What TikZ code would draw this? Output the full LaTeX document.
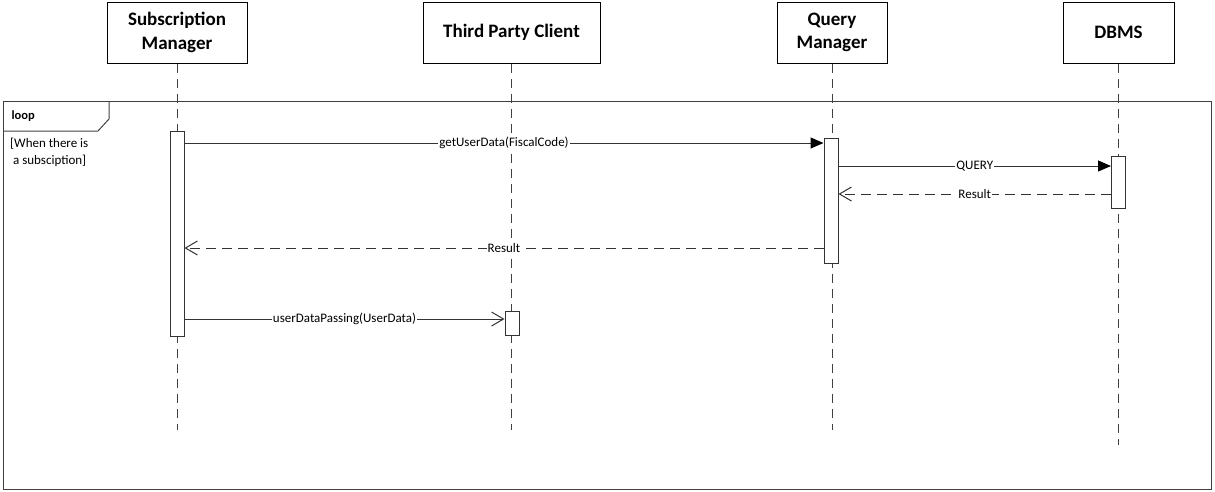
\documentclass[tikz,border=0pt]{standalone}
\usepackage{fontspec}
\setmainfont{Carlito}
\usetikzlibrary{arrows.meta}

\begin{document}
\begin{tikzpicture}[x=1pt,y=-1pt,
    head/.style={draw,line width=1pt,minimum width=#1,minimum height=61,align=center,
                 font=\fontsize{19}{23.5}\selectfont\bfseries},
    lifeline/.style={draw=black!75,line width=1pt,dash pattern=on 9pt off 6pt},
    actbox/.style={draw=black!80,fill=white,line width=1pt,minimum width=14,inner sep=0pt},
    msg/.style={draw=black!80,line width=1pt,-{Triangle[length=13pt,width=11pt,color=black]}},
    call/.style={draw=black!80,line width=1pt,-{Straight Barb[length=12pt,width=14pt]}},
    reply/.style={call,dash pattern=on 10pt off 6pt},
    lbl/.style={fill=white,inner sep=1pt,font=\fontsize{13}{15}\selectfont}]
  \useasboundingbox (0,0) rectangle (1215,491);
  % heads
  \node[head=140] (sm) at (177,32.5) {Subscription\\Manager};
  \node[head=177] (tpc) at (511.5,32.5) {Third Party Client};
  \node[head=110] (qm) at (832,32.5) {Query\\Manager};
  \node[head=111] (db) at (1118.5,32.5) {DBMS};
  % lifelines
  \draw[lifeline] (sm.south) -- (177,430);
  \draw[lifeline] (tpc.south) -- (511.5,430);
  \draw[lifeline] (qm.south) -- (832,430);
  \draw[lifeline] (db.south) -- (1118.5,445);
  % loop frame
  \draw[black!75,line width=1pt] (3,101) rectangle (1211,489);
  \draw[black!75,line width=1pt] (3,131) -- (98,131) -- (109,119) -- (109,101);
  \node[anchor=west,font=\fontsize{12.5}{14}\selectfont\bfseries] (loop) at (8,116) {loop};
  \node[anchor=north west,align=left,inner sep=0pt,font=\fontsize{13}{17}\selectfont] (guard) at (10,138) {[When there is\\\ a subsciption]};
  % activations
  \node[actbox,minimum height=205] (smact) at (177,233.5) {};
  \node[actbox,minimum height=125] (qmact) at (831,200.5) {};
  \node[actbox,minimum height=52] (dbact) at (1118.5,182) {};
  \node[actbox,minimum height=24] (tpcact) at (512,323) {};
  % messages
  \draw[msg] (smact.east |- 0,143) -- node[lbl,pos=0.5] {getUserData(FiscalCode)} (qmact.west |- 0,143);
  \draw[msg] (qmact.east |- 0,166) -- node[lbl,pos=0.5] {QUERY} (dbact.west |- 0,166);
  \draw[reply] (dbact.west |- 0,194) -- node[lbl,pos=0.5] {Result} (qmact.east |- 0,194);
  \draw[reply] (qmact.west |- 0,248) -- node[lbl,pos=0.5] {Result} (smact.east |- 0,248);
  \draw[call] (smact.east |- 0,319) -- node[lbl,pos=0.5] {userDataPassing(UserData)} (tpcact.west |- 0,319);
\end{tikzpicture}
\end{document}
